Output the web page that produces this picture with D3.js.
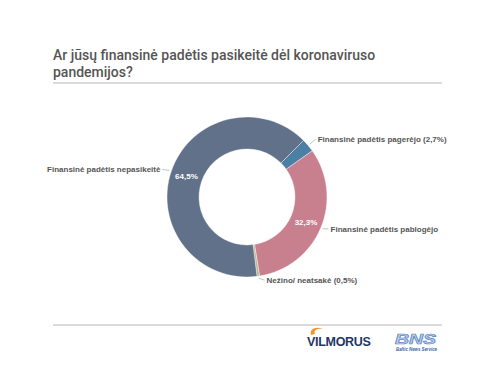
<!DOCTYPE html>
<html>
<head>
<meta charset="utf-8">
<script src="https://cdn.jsdelivr.net/npm/d3@7"></script>
<style>
  body { margin: 0; background: #fff; }
  svg { display: block; }
</style>
</head>
<body>
<div id="chart"></div>
<script>
// data
var titleLines = ["Ar jūsų finansinė padėtis pasikeitė dėl koronaviruso", "pandemijos?"];
var categories = ["Finansinė padėtis pagerėjo", "Finansinė padėtis pablogėjo", "Nežino/ neatsakė", "Finansinė padėtis nepasikeitė"];
var values = [2.7, 32.3, 0.5, 64.5];
var outerLabels = ["Finansinė padėtis pagerėjo (2,7%)", "Finansinė padėtis pablogėjo", "Nežino/ neatsakė (0,5%)", "Finansinė padėtis nepasikeitė"];
var innerLabels = ["", "32,3%", "", "64,5%"];
var colors = ["#4b7fa6", "#c8808e", "#bdb58f", "#607189"];

var width = 500, height = 375;
var cx = 247, cy = 197;
var outerR = 80, innerR = 48;

var svg = d3.select("#chart").append("svg")
    .attr("width", width)
    .attr("height", height);

// title
svg.append("g").selectAll("text")
    .data(titleLines)
    .enter().append("text")
    .attr("x", 53)
    .attr("y", function(d, i) { return 60 + i * 17; })
    .style("font-family", "Roboto, 'Liberation Sans', sans-serif")
    .style("font-weight", "500")
    .style("font-size", "14px")
    .style("fill", "#555")
    .text(function(d) { return d; });

// separator lines
[83, 325].forEach(function(y) {
    svg.append("line")
        .attr("x1", 53).attr("x2", 442)
        .attr("y1", y).attr("y2", y)
        .style("stroke", "#cfcfcf")
        .style("stroke-width", 1.5);
});

var pie = d3.pie()
    .sort(null)
    .startAngle(Math.PI / 4)
    .endAngle(Math.PI / 4 + 2 * Math.PI)
    .value(function(d) { return d; });

var arcs = pie(values);

var arc = d3.arc().innerRadius(innerR).outerRadius(outerR);
var edgeArc = d3.arc().innerRadius(outerR + 2).outerRadius(outerR + 2);

var g = svg.append("g").attr("transform", "translate(" + cx + "," + cy + ")");

g.selectAll("path")
    .data(arcs)
    .enter().append("path")
    .attr("d", arc)
    .style("fill", function(d, i) { return colors[i]; })
    .style("stroke", "#fff")
    .style("stroke-width", 0.4);

g.selectAll("text.inner")
    .data(arcs)
    .enter().append("text")
    .attr("class", "inner")
    .attr("transform", function(d) { return "translate(" + arc.centroid(d) + ")"; })
    .attr("dy", "0.35em")
    .attr("text-anchor", "middle")
    .style("font-family", "'Liberation Sans', Arial, sans-serif")
    .style("font-weight", "bold")
    .style("font-size", "8px")
    .style("fill", "#fff")
    .text(function(d, i) { return innerLabels[i]; });

// leader lines and outer labels
var nudgeY = [-5, 0, 2, -1];
var labels = g.selectAll("g.lab")
    .data(arcs)
    .enter().append("g")
    .attr("class", "lab");

labels.each(function(d, i) {
    var p = edgeArc.centroid(d);
    var right = p[0] > 0;
    var x2 = p[0] + (right ? 6 : -7);
    var y2 = p[1] + nudgeY[i];
    var sel = d3.select(this);
    sel.append("line")
        .attr("x1", p[0]).attr("y1", p[1])
        .attr("x2", x2).attr("y2", y2)
        .style("stroke", "#aab4c0")
        .style("stroke-width", 0.8);
    sel.append("text")
        .attr("x", x2 + (right ? 2 : -2))
        .attr("y", y2)
        .attr("dy", "0.35em")
        .attr("text-anchor", right ? "start" : "end")
        .style("font-family", "'Liberation Sans', Arial, sans-serif")
        .style("font-weight", "bold")
        .style("font-size", "8px")
        .style("fill", "#555")
        .text(outerLabels[i]);
});

// logos
var logo = svg.append("g");
logo.append("path")
    .attr("d", "M311,335 C309,329 316,326 323,329 C318,328 313,330 315,334 Z")
    .style("fill", "#f0962a");
logo.append("text")
    .attr("x", 307).attr("y", 346)
    .style("font-family", "'Liberation Sans', Arial, sans-serif")
    .style("font-weight", "bold")
    .style("font-size", "12.5px")
    .style("letter-spacing", "-0.3px")
    .style("fill", "#1e3767")
    .text("VILMORUS");

logo.append("text")
    .attr("x", 395).attr("y", 344)
    .attr("textLength", 41)
    .attr("lengthAdjust", "spacingAndGlyphs")
    .style("font-family", "'Liberation Sans', Arial, sans-serif")
    .style("font-weight", "bold")
    .style("font-style", "italic")
    .style("font-size", "14px")
    .style("fill", "#bcd0ec")
    .style("stroke", "#5b86c4")
    .style("stroke-width", 0.7)
    .text("BNS");
logo.append("text")
    .attr("x", 396).attr("y", 351)
    .attr("textLength", 41)
    .attr("lengthAdjust", "spacingAndGlyphs")
    .style("font-family", "'Liberation Sans', Arial, sans-serif")
    .style("font-weight", "bold")
    .style("font-style", "italic")
    .style("font-size", "4.5px")
    .style("fill", "#3b64a8")
    .text("Baltic News Service");
</script>
</body>
</html>
